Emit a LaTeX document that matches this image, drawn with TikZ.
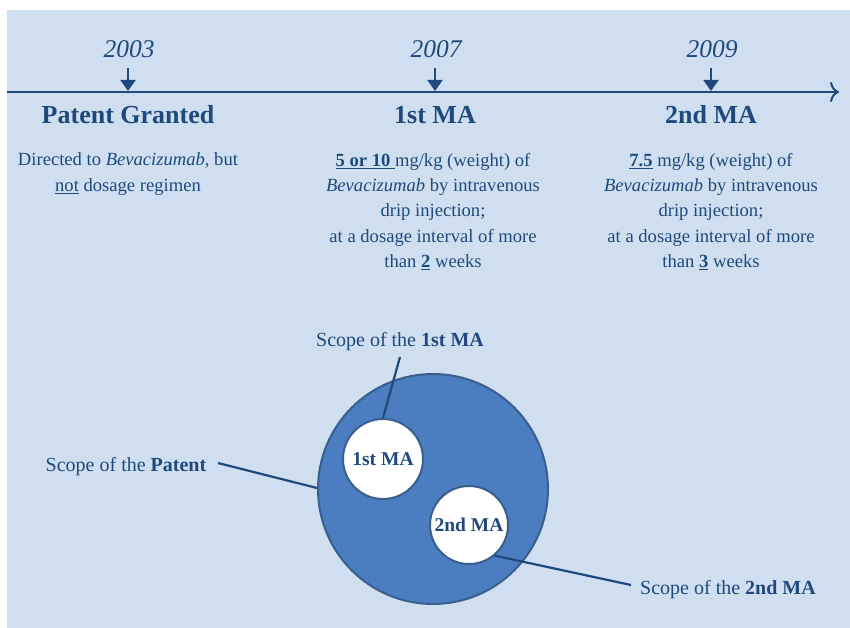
\documentclass[tikz,border=0pt]{standalone}
\usepackage{fontspec}
\setmainfont{Liberation Serif}
\usetikzlibrary{arrows.meta}
\definecolor{txt}{HTML}{1F497D}
\definecolor{bg}{HTML}{D0DFEF}
\definecolor{bigfill}{HTML}{4A7EC0}
\definecolor{bigedge}{HTML}{3A5F8F}
\begin{document}
\begin{tikzpicture}[x=1pt,y=-1pt,
  year/.style={font=\fontsize{25.5}{30}\selectfont\itshape, text=txt},
  title/.style={font=\fontsize{26}{30}\selectfont\bfseries, text=txt},
  desc/.style={font=\fontsize{18.6}{25.3}\selectfont, text=txt, align=center},
  lab/.style={font=\fontsize{20}{24}\selectfont, text=txt},
  conn/.style={draw=txt, line width=2.2pt},
  darr/.style={draw=txt, line width=2pt, -{Triangle[length=11pt,width=15pt]}},
  small/.style={circle, fill=white, draw=bigedge, line width=2pt, font=\fontsize{19.5}{22}\selectfont\bfseries, text=txt, inner sep=0pt}
]
\useasboundingbox (0,0) rectangle (850,628);
\fill[white] (0,0) rectangle (850,628);
\fill[bg] (7,10) rectangle (850,628);
% timeline
\coordinate (tl0) at (7,92);
\coordinate (tl1) at (839,92);
\draw[draw=txt, line width=2pt, -{To[length=9pt,width=20pt,line width=2pt]}] (tl0) -- (tl1);
% years
\node[year] (y1) at (129,49) {2003};
\node[year] (y2) at (436,49) {2007};
\node[year] (y3) at (712,49) {2009};
\coordinate (a1s) at (128,68); \coordinate (a1e) at (128,91);
\coordinate (a2s) at (435,68); \coordinate (a2e) at (435,91);
\coordinate (a3s) at (711,68); \coordinate (a3e) at (711,91);
\draw[darr] (a1s) -- (a1e);
\draw[darr] (a2s) -- (a2e);
\draw[darr] (a3s) -- (a3e);
% titles
\node[title] (t1) at (128,115) {Patent Granted};
\node[title] (t2) at (435,115) {1st MA};
\node[title] (t3) at (711,115) {2nd MA};
% descriptions
\node[desc, anchor=north] (d1) at (128,149.5) {Directed to \textit{Bevacizumab}, but\\\underline{not} dosage regimen};
\node[desc, anchor=north] (d2) at (433,149.5) {\underline{\textbf{5 or 10 }}mg/kg (weight) of\\\textit{Bevacizumab} by intravenous\\drip injection;\\at a dosage interval of more\\than \underline{\textbf{2}} weeks};
\node[desc, anchor=north] (d3) at (711,149.5) {\underline{\textbf{7.5}} mg/kg (weight) of\\\textit{Bevacizumab} by intravenous\\drip injection;\\at a dosage interval of more\\than \underline{\textbf{3}} weeks};
% circles
\node[circle, fill=bigfill, draw=bigedge, line width=2pt, minimum size=230pt, inner sep=0pt] (big) at (433,489) {};
\node[small, minimum size=80pt] (m1) at (383,459) {1st MA};
\node[small, minimum size=78pt] (m2) at (469,525) {2nd MA};
% labels
\node[lab] (l1) at (400,342) {Scope of the \textbf{1st MA}};
\node[lab] (lp) at (126,467) {Scope of the \textbf{Patent}};
\node[lab] (l2) at (728,590) {Scope of the \textbf{2nd MA}};
\coordinate (l1e) at (400,357);
\coordinate (lpe) at (218,463);
\coordinate (l2e) at (631,585);
\draw[conn] (l1e) -- (m1.north);
\draw[conn] (lpe) -- (big.west |- 0,488) ;
\draw[conn] (m2.-50) -- (l2e);
\end{tikzpicture}
\end{document}
